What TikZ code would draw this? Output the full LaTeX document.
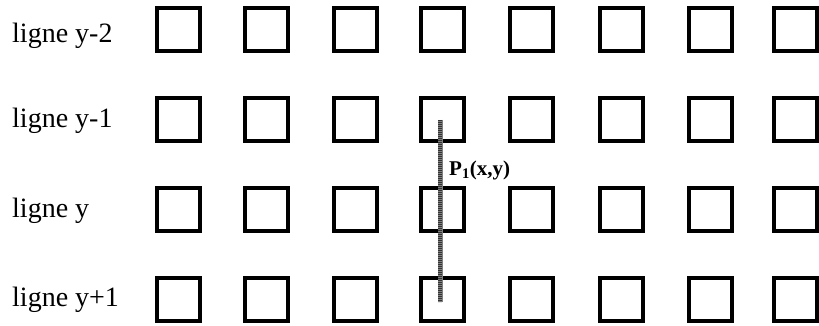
\documentclass[tikz,border=0pt]{standalone}
\usepackage{fontspec}
\setmainfont{Liberation Serif}
\begin{document}
\begin{tikzpicture}[x=1pt,y=-1pt,
  cell/.style={draw=black,line width=4pt,minimum size=43pt,inner sep=0pt,fill=none},
  rowlabel/.style={anchor=base west,inner sep=0pt,font=\fontsize{28}{30}\selectfont},
  trace/.style={line width=5pt,draw=black!50},
  tracegrain/.style={line width=4pt,draw=black!80,dash pattern=on 0.9pt off 1.1pt},
  plabel/.style={anchor=west,inner sep=0pt,font=\fontsize{21}{23}\selectfont\bfseries}]
\useasboundingbox (0,0) rectangle (819,326);
\foreach \r/\yy in {1/30,2/120,3/209,4/299}{
  \foreach \c/\xx in {1/178,2/266.5,3/355,4/442,5/531,6/621,7/710,8/795}{
    \node[cell] (s\r\c) at (\xx,\yy) {};
  }
}
\node[rowlabel] (l1) at (12,43) {ligne y-2};
\node[rowlabel] (l2) at (12,128) {ligne y-1};
\node[rowlabel] (l3) at (12,217) {ligne y};
\node[rowlabel] (l4) at (12,306) {ligne y+1};
\draw[trace] ([xshift=-2pt]s24.center) -- ([xshift=-2pt,yshift=-3pt]s44.center);
\draw[tracegrain] ([xshift=-2pt]s24.center) -- ([xshift=-2pt,yshift=-3pt]s44.center);
\node[plabel] (p) at (449,170) {P\textsubscript{1}(x,y)};
\end{tikzpicture}
\end{document}
